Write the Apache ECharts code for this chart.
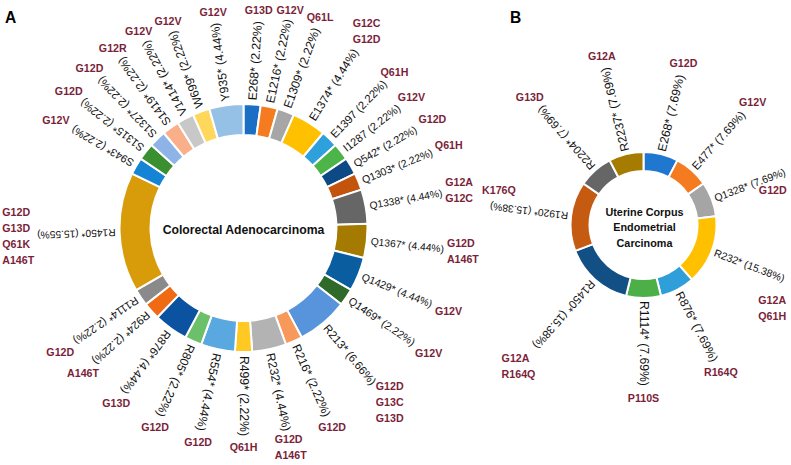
<!DOCTYPE html>
<html><head><meta charset="utf-8">
<script src="https://cdn.jsdelivr.net/npm/echarts@6/dist/echarts.min.js"></script>
<style>html,body{margin:0;padding:0;background:#fff}#c{width:791px;height:465px}</style>
</head><body><div id="c"></div>
<script>
// ---------- Data: Colorectal Adenocarcinoma ----------
const crcNames = ['E268*','E1216*','E1309*','E1374*','E1397','I1287','Q542*','Q1303*','Q1338*','Q1367*','Q1429*','Q1469*','R213*','R216*','R232*','R499*','R554*','R805*','R876*','R924*','R1114*','R1450*','S943*','S1315*','S1327*','S1419*','V1414*','W699*','Y935*'];
const crcPct = [2.22,2.22,2.22,4.44,2.22,2.22,2.22,2.22,4.44,4.44,4.44,2.22,6.66,2.22,4.44,2.22,4.44,2.22,4.44,2.22,2.22,15.55,2.22,2.22,2.22,2.22,2.22,2.22,4.44];
const crcMut = [['G13D'],['G12V'],['Q61L'],['G12C','G12D'],['Q61H'],['G12V'],['G12D'],['Q61H'],['G12A','G12C'],['G12D','A146T'],['G12V'],['G12V'],['G12D','G13C','G13D'],['G12D'],['G12D','A146T'],['Q61H'],['G12D'],['G12D'],['G13D'],['A146T'],['G12D'],['G12D','G13D','Q61K','A146T'],['G12V'],['G12D'],['G12D'],['G12R'],['G12V'],['G12V'],['G12V']];
const crcColors = ['#1A6FC4','#F47B20','#A6A6A6','#FFC000','#2EA0DC','#4DB44A','#0D4A85','#C3540E','#666666','#A47A00','#0A5EA0','#2F6A28','#5894DC','#F7995A','#B3B3B3','#FFC823','#5AA8E0','#6CC06A','#0B52A0','#F06A14','#8A8A8A','#D89C0A','#1584D4','#3A8F30','#8EB3E6','#F9B08A','#C8C8C8','#FFD75A','#96C1E6'];
const crcTitle = 'Colorectal Adenocarcinoma';

// ---------- Data: Uterine Corpus Endometrial Carcinoma ----------
const ucecNames = ['E268*','E477*','Q1328*','R232*','R876*','R1114*','R1450*','R1920*','R2204*','R2237*'];
const ucecPct = [7.69,7.69,7.69,15.38,7.69,7.69,15.38,15.38,7.69,7.69];
const ucecMut = [['G12D'],['G12V'],['G12D'],['G12A','Q61H'],['R164Q'],['P110S'],['G12A','R164Q'],['K176Q'],['G13D'],['G12A']];
const ucecColors = ['#1F77D0','#F47B20','#A5A5A5','#FFC000','#2E9FD9','#4CAF48','#124F84','#C55A11','#666666','#A67C00'];
const ucecTitle = 'Uterine Corpus\nEndometrial\nCarcinoma';

const panelLetters = ['A','B'];

// ---------- Layout / style ----------
const W = 791, H = 465;
const MUT_COLOR = '#7B1F3A';
const cv = document.createElement('canvas').getContext('2d');
function mw(font, txt){ cv.font = font; return cv.measureText(txt).width; }
const probe = 'abcdefghijklmnopqrstuvwxyzABCDEFG0123456789';
const hasNarrow = mw('20px "Liberation Sans Narrow", monospace', probe) !== mw('20px monospace', probe);
const REG = '"Liberation Sans", Arial, sans-serif';
const NAR = hasNarrow ? '"Liberation Sans Narrow", "Liberation Sans", sans-serif' : REG;
const nk = hasNarrow ? 1 : 0.82;

function makeDonut(cfg) {
  const {names, pct, mut, colors, center, radius, gap, gap2, sideAbove} = cfg;
  const total = pct.reduce((a, b) => a + b, 0);
  let cum = 0;
  const geo = pct.map(v => {
    const mid = cum + v / 2; cum += v;
    const th = (90 - 360 * mid / total) * Math.PI / 180;
    return {th, ux: Math.cos(th), uy: -Math.sin(th)};
  });
  const fonts = geo.map(g => {
    const S = 12.2 * Math.sqrt(0.704 * g.ux * g.ux + g.uy * g.uy);
    if (hasNarrow && Math.abs(g.ux) > 0.7) return {family: NAR, size: S / 0.82};
    return {family: REG, size: S};
  });
  const texts = names.map((n, i) => n + ' (' + pct[i].toFixed(2) + '%)');
  const lens = texts.map((t, i) => mw(fonts[i].size + 'px ' + fonts[i].family, t));

  const ring = {
    type: 'pie', center, radius, startAngle: 90, clockwise: true,
    avoidLabelOverlap: false, silent: true, z: 3,
    itemStyle: {borderColor: '#fff', borderWidth: 2},
    label: {show: true, position: 'outside', color: '#111', formatter: p => texts[p.dataIndex]},
    labelLine: {show: false},
    emphasis: {disabled: true},
    data: names.map((n, i) => ({
      name: n, value: pct[i], itemStyle: {color: colors[i]},
      label: {fontSize: fonts[i].size, fontFamily: fonts[i].family}
    })),
    labelLayout: p => {
      const g = geo[p.dataIndex];
      const r = radius[1] + gap;
      return {x: center[0] + r * g.ux, y: center[1] + r * g.uy,
              rotate: g.th * 180 / Math.PI, align: 'left', verticalAlign: 'middle'};
    }
  };

  const mutSeries = {
    type: 'pie', center, radius, startAngle: 90, clockwise: true,
    avoidLabelOverlap: false, silent: true, z: 2,
    itemStyle: {color: 'rgba(0,0,0,0)', borderWidth: 0},
    label: {show: true, position: 'outside', color: MUT_COLOR, fontWeight: 'bold',
            fontSize: 13 * nk, fontFamily: NAR, lineHeight: 16,
            formatter: p => mut[p.dataIndex].join('\n')},
    labelLine: {show: false},
    emphasis: {disabled: true},
    data: names.map((n, i) => ({name: n, value: pct[i]})),
    labelLayout: p => {
      const i = p.dataIndex, g = geo[i];
      const w = p.labelRect.width, h = p.labelRect.height;
      const r = radius[1] + gap + lens[i] + gap2;
      const ex = center[0] + r * g.ux, ey = center[1] + r * g.uy;
      let left, top;
      if (sideAbove && g.ux < -0.85) {
        left = ex - 4; top = ey - 8 - h;
      } else {
        const tx = Math.abs(g.ux) > 1e-6 ? (w / 2) / Math.abs(g.ux) : Infinity;
        const ty = Math.abs(g.uy) > 1e-6 ? (h / 2) / Math.abs(g.uy) : Infinity;
        const t = Math.min(tx, ty);
        const cx = ex + t * g.ux, cy = ey + t * g.uy;
        left = cx - w / 2; top = cy - h / 2;
        if (left + w > W - 3) { left = ex - w - 2; top = ey + 12; }
      }
      top = Math.max(2, Math.min(top, H - 2 - h));
      return {x: left, y: top + h / 2, align: 'left', verticalAlign: 'middle'};
    }
  };
  return [mutSeries, ring];
}

const crcCenter = [243.5, 228], ucecCenter = [643.5, 225];
const series = [].concat(
  makeDonut({names: crcNames, pct: crcPct, mut: crcMut, colors: crcColors,
             center: crcCenter, radius: [93, 124], gap: 4, gap2: 3}),
  makeDonut({names: ucecNames, pct: ucecPct, mut: ucecMut, colors: ucecColors,
             center: ucecCenter, radius: [54, 73], gap: 3, gap2: 4, sideAbove: true})
);

const chart = echarts.init(document.getElementById('c'), null, {renderer: 'svg', width: W, height: H});
chart.setOption({
  backgroundColor: '#fff',
  animation: false,
  graphic: [
    {type: 'text', x: crcCenter[0], y: crcCenter[1] + 2, silent: true,
     style: {text: crcTitle, fill: '#111', align: 'center', verticalAlign: 'middle',
             font: 'bold ' + (14.9 * nk) + 'px ' + NAR}},
    {type: 'text', x: ucecCenter[0] + 1, y: ucecCenter[1] + 2, silent: true,
     style: {text: ucecTitle, fill: '#111', align: 'center', verticalAlign: 'middle', lineHeight: 15.5,
             font: 'bold ' + (13.2 * nk) + 'px ' + NAR}},
    {type: 'text', x: 5, y: 17, silent: true,
     style: {text: panelLetters[0], fill: '#000', align: 'left', verticalAlign: 'middle',
             font: 'bold ' + (19 * nk) + 'px ' + NAR}},
    {type: 'text', x: 510, y: 17, silent: true,
     style: {text: panelLetters[1], fill: '#000', align: 'left', verticalAlign: 'middle',
             font: 'bold ' + (19 * nk) + 'px ' + NAR}}
  ],
  series
});
</script>
</body></html>
